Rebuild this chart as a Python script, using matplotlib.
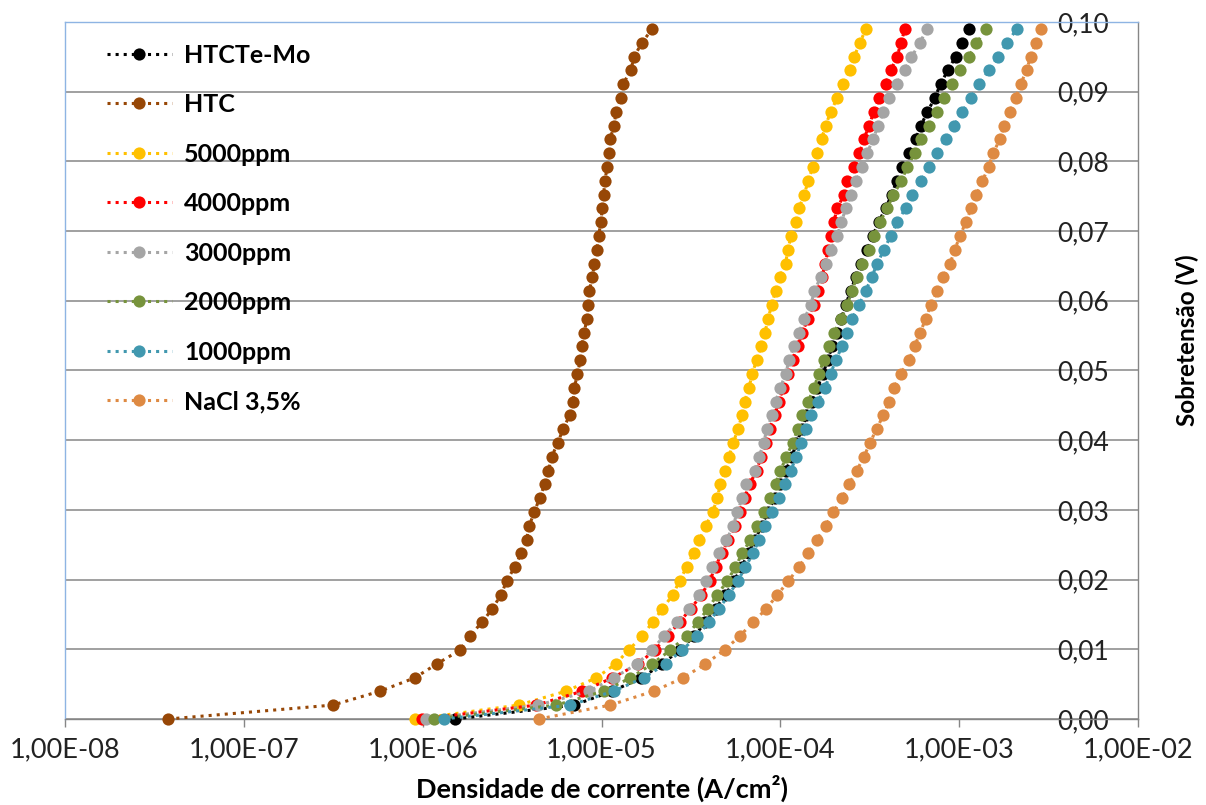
import matplotlib
matplotlib.use("Agg")
import matplotlib.pyplot as plt
from matplotlib.ticker import FuncFormatter, NullLocator

plt.rcParams['font.family'] = ['Lato', 'DejaVu Sans']

# Overpotential steps (V), shared by every polarization curve
sobretensao = [
    0.0000, 0.0020, 0.0040, 0.0059, 0.0079, 0.0099, 0.0119, 0.0139, 0.0158, 0.0178,
    0.0198, 0.0218, 0.0238, 0.0257, 0.0277, 0.0297, 0.0317, 0.0337, 0.0356, 0.0376,
    0.0396, 0.0416, 0.0436, 0.0455, 0.0475, 0.0495, 0.0515, 0.0535, 0.0554, 0.0574,
    0.0594, 0.0614, 0.0634, 0.0653, 0.0673, 0.0693, 0.0713, 0.0733, 0.0752, 0.0772,
    0.0792, 0.0812, 0.0832, 0.0851, 0.0871, 0.0891, 0.0911, 0.0931, 0.0950, 0.0970,
    0.0990,
]

# Current density (A/cm2) for each coating / solution
i_htcte_mo = [
    1.52e-6, 7.05e-6, 1.15e-5, 1.67e-5, 2.19e-5, 2.73e-5, 3.31e-5, 3.81e-5, 4.34e-5, 4.93e-5,
    5.51e-5, 6.07e-5, 6.64e-5, 7.21e-5, 7.85e-5, 8.53e-5, 9.29e-5, 9.95e-5, 1.07e-4, 1.16e-4,
    1.23e-4, 1.32e-4, 1.40e-4, 1.50e-4, 1.61e-4, 1.73e-4, 1.84e-4, 1.95e-4, 2.07e-4, 2.19e-4,
    2.32e-4, 2.47e-4, 2.64e-4, 2.83e-4, 3.06e-4, 3.28e-4, 3.55e-4, 3.88e-4, 4.19e-4, 4.47e-4,
    4.81e-4, 5.24e-4, 5.72e-4, 6.10e-4, 6.64e-4, 7.30e-4, 7.87e-4, 8.65e-4, 9.55e-4, 1.04e-3,
    1.14e-3,
]
i_htc = [
    3.78e-8, 3.15e-7, 5.79e-7, 9.02e-7, 1.20e-6, 1.62e-6, 1.83e-6, 2.15e-6, 2.45e-6, 2.74e-6,
    2.95e-6, 3.27e-6, 3.56e-6, 3.81e-6, 3.94e-6, 4.21e-6, 4.51e-6, 4.81e-6, 5.05e-6, 5.26e-6,
    5.69e-6, 6.10e-6, 6.64e-6, 6.93e-6, 7.05e-6, 7.33e-6, 7.62e-6, 7.75e-6, 8.02e-6, 8.26e-6,
    8.41e-6, 8.55e-6, 8.89e-6, 9.12e-6, 9.40e-6, 9.64e-6, 9.91e-6, 1.01e-5, 1.03e-5, 1.04e-5,
    1.08e-5, 1.10e-5, 1.12e-5, 1.17e-5, 1.21e-5, 1.28e-5, 1.32e-5, 1.46e-5, 1.52e-5, 1.68e-5,
    1.92e-5,
]
i_5000 = [
    9.10e-7, 3.44e-6, 6.34e-6, 9.35e-6, 1.20e-5, 1.42e-5, 1.69e-5, 1.93e-5, 2.19e-5, 2.50e-5,
    2.73e-5, 2.99e-5, 3.27e-5, 3.53e-5, 3.82e-5, 4.19e-5, 4.44e-5, 4.62e-5, 4.93e-5, 5.15e-5,
    5.46e-5, 5.78e-5, 6.12e-5, 6.31e-5, 6.67e-5, 6.97e-5, 7.36e-5, 7.82e-5, 8.19e-5, 8.55e-5,
    8.93e-5, 9.40e-5, 9.91e-5, 1.07e-4, 1.10e-4, 1.15e-4, 1.22e-4, 1.27e-4, 1.36e-4, 1.43e-4,
    1.52e-4, 1.60e-4, 1.70e-4, 1.79e-4, 1.91e-4, 2.08e-4, 2.24e-4, 2.44e-4, 2.58e-4, 2.79e-4,
    3.00e-4,
]
i_4000 = [
    9.95e-7, 4.33e-6, 7.82e-6, 1.15e-5, 1.61e-5, 1.98e-5, 2.34e-5, 2.73e-5, 3.15e-5, 3.62e-5,
    4.02e-5, 4.34e-5, 4.69e-5, 5.13e-5, 5.57e-5, 5.92e-5, 6.31e-5, 6.73e-5, 7.36e-5, 7.80e-5,
    8.32e-5, 8.71e-5, 9.33e-5, 9.77e-5, 1.04e-4, 1.10e-4, 1.17e-4, 1.25e-4, 1.33e-4, 1.42e-4,
    1.54e-4, 1.63e-4, 1.71e-4, 1.78e-4, 1.85e-4, 1.92e-4, 1.99e-4, 2.08e-4, 2.27e-4, 2.37e-4,
    2.58e-4, 2.77e-4, 2.93e-4, 3.13e-4, 3.33e-4, 3.57e-4, 3.88e-4, 4.14e-4, 4.51e-4, 4.71e-4,
    4.98e-4,
]
i_3000 = [
    1.04e-6, 4.44e-6, 8.55e-6, 1.17e-5, 1.58e-5, 1.92e-5, 2.23e-5, 2.65e-5, 3.08e-5, 3.50e-5,
    3.86e-5, 4.16e-5, 4.53e-5, 5.00e-5, 5.45e-5, 5.74e-5, 6.12e-5, 6.44e-5, 7.18e-5, 7.59e-5,
    8.09e-5, 8.38e-5, 9.02e-5, 9.40e-5, 1.00e-4, 1.07e-4, 1.12e-4, 1.19e-4, 1.27e-4, 1.36e-4,
    1.48e-4, 1.55e-4, 1.68e-4, 1.79e-4, 1.91e-4, 2.08e-4, 2.19e-4, 2.33e-4, 2.48e-4, 2.66e-4,
    2.87e-4, 3.06e-4, 3.30e-4, 3.52e-4, 3.77e-4, 4.06e-4, 4.47e-4, 4.96e-4, 5.41e-4, 6.04e-4,
    6.58e-4,
]
i_2000 = [
    1.15e-6, 5.60e-6, 1.03e-5, 1.45e-5, 1.92e-5, 2.43e-5, 2.99e-5, 3.45e-5, 3.93e-5, 4.44e-5,
    5.05e-5, 5.61e-5, 6.12e-5, 6.81e-5, 7.43e-5, 8.09e-5, 8.73e-5, 9.40e-5, 1.00e-4, 1.08e-4,
    1.17e-4, 1.25e-4, 1.33e-4, 1.43e-4, 1.54e-4, 1.64e-4, 1.75e-4, 1.87e-4, 1.99e-4, 2.19e-4,
    2.36e-4, 2.52e-4, 2.67e-4, 2.87e-4, 3.13e-4, 3.33e-4, 3.61e-4, 3.96e-4, 4.29e-4, 4.75e-4,
    5.13e-4, 5.64e-4, 6.10e-4, 6.78e-4, 7.48e-4, 8.22e-4, 9.16e-4, 1.01e-3, 1.13e-3, 1.25e-3,
    1.42e-3,
]
i_1000 = [
    1.31e-6, 6.70e-6, 1.17e-5, 1.72e-5, 2.28e-5, 2.83e-5, 3.43e-5, 3.98e-5, 4.53e-5, 5.15e-5,
    5.78e-5, 6.38e-5, 7.05e-5, 7.59e-5, 8.26e-5, 9.02e-5, 9.82e-5, 1.06e-4, 1.14e-4, 1.23e-4,
    1.30e-4, 1.40e-4, 1.49e-4, 1.62e-4, 1.77e-4, 1.91e-4, 2.04e-4, 2.22e-4, 2.37e-4, 2.52e-4,
    2.75e-4, 3.00e-4, 3.24e-4, 3.48e-4, 3.79e-4, 4.14e-4, 4.51e-4, 5.02e-4, 5.47e-4, 6.10e-4,
    6.78e-4, 7.55e-4, 8.40e-4, 9.35e-4, 1.04e-3, 1.16e-3, 1.29e-3, 1.47e-3, 1.65e-3, 1.85e-3,
    2.10e-3,
]
i_nacl = [
    4.46e-6, 1.12e-5, 1.96e-5, 2.86e-5, 3.81e-5, 4.88e-5, 5.93e-5, 7.05e-5, 8.34e-5, 9.62e-5,
    1.11e-4, 1.27e-4, 1.43e-4, 1.60e-4, 1.79e-4, 1.98e-4, 2.22e-4, 2.42e-4, 2.67e-4, 2.93e-4,
    3.17e-4, 3.45e-4, 3.77e-4, 4.05e-4, 4.32e-4, 4.71e-4, 5.24e-4, 5.64e-4, 6.04e-4, 6.50e-4,
    6.93e-4, 7.55e-4, 8.17e-4, 8.89e-4, 9.44e-4, 1.01e-3, 1.09e-3, 1.17e-3, 1.25e-3, 1.35e-3,
    1.46e-3, 1.55e-3, 1.69e-3, 1.78e-3, 1.92e-3, 2.07e-3, 2.21e-3, 2.38e-3, 2.51e-3, 2.68e-3,
    2.86e-3,
]

series_labels = ['HTCTe-Mo', 'HTC', '5000ppm', '4000ppm', '3000ppm', '2000ppm', '1000ppm', 'NaCl 3,5%']
series_colors = ['#000000', '#974706', '#FFC000', '#FF0000', '#A5A5A5', '#77933C', '#4198AF', '#DE8A43']
series_data = [i_htcte_mo, i_htc, i_5000, i_4000, i_3000, i_2000, i_1000, i_nacl]

x_ticks = [1e-8, 1e-7, 1e-6, 1e-5, 1e-4, 1e-3, 1e-2]
y_ticks = [0.00, 0.01, 0.02, 0.03, 0.04, 0.05, 0.06, 0.07, 0.08, 0.09, 0.10]

W, H = 1206, 805
fig = plt.figure(figsize=(W / 100, H / 100), dpi=100)
ax = fig.add_axes([65 / W, 1 - 719 / H, 1073 / W, 697 / H])

for k, (label, color, dens) in enumerate(zip(series_labels, series_colors, series_data)):
    ax.plot(dens, sobretensao, linestyle=':', linewidth=2.2, color=color,
            marker='o', markersize=8.8, markeredgewidth=0, label=label,
            clip_on=False, zorder=3 + k * 0.1)

ax.set_xscale('log')
ax.set_xlim(1e-8, 1e-2)
ax.set_ylim(0, 0.10)
ax.set_xticks(x_ticks)
ax.xaxis.set_minor_locator(NullLocator())
ax.xaxis.set_major_formatter(FuncFormatter(lambda v, p: f"{v:.2E}".replace('.', ',')))
ax.set_yticks(y_ticks)
ax.yaxis.set_major_formatter(FuncFormatter(lambda v, p: f"{v:.2f}".replace('.', ',')))

# grid and frame
ax.grid(axis='y', color='#868686', linewidth=1.1)
ax.grid(axis='x', visible=False)
ax.set_axisbelow(True)
ax.spines['left'].set_color('#8EB4E3')
ax.spines['top'].set_color('#8EB4E3')
ax.spines['bottom'].set_color('#868686')
ax.spines['right'].set_color('#868686')
for s in ax.spines.values():
    s.set_linewidth(1.0)

ax.tick_params(axis='x', which='major', direction='out', length=6, width=1,
               color='#868686', pad=7, labelsize=19.5, labelcolor='#222222')

ax.yaxis.tick_right()
ax.tick_params(axis='y', which='major', length=0, pad=-21, labelsize=19,
               labelcolor='#222222')
plt.setp(ax.yaxis.get_majorticklabels(), ha='right')

ax.set_xlabel('Densidade de corrente (A/cm²)', fontsize=19.5, fontweight='bold')
ax.xaxis.set_label_coords(0.5, -0.08)

ax.yaxis.set_label_position('right')
ax.set_ylabel('Sobretensão (V)', fontsize=17.5, fontweight='bold')
ax.yaxis.label.set_va('center')
ax.yaxis.set_label_coords((1187 - 65) / 1073, 1 - (340 - 22) / 697)

leg = ax.legend(loc='upper left', bbox_to_anchor=(0.039, 0.969), frameon=False,
                borderpad=0, borderaxespad=0, handlelength=2.6, handletextpad=0.5,
                labelspacing=1.06, numpoints=1,
                prop={'size': 18, 'weight': 'bold'})

fig.savefig('out.png', dpi=100)
